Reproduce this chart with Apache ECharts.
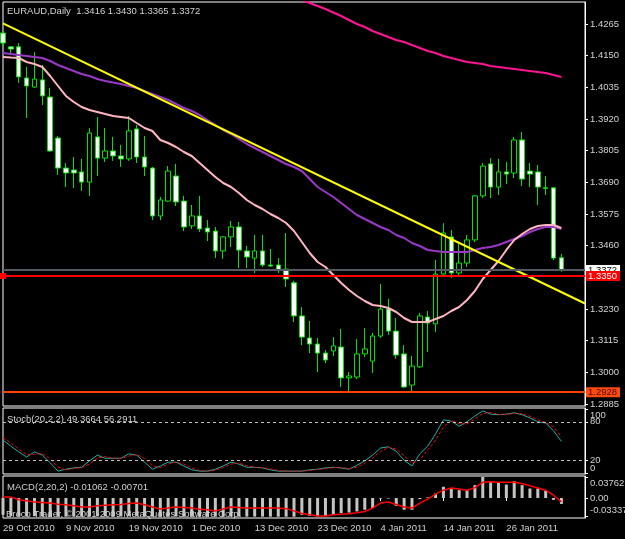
<!DOCTYPE html>
<html><head><meta charset="utf-8">
<script src="https://cdn.jsdelivr.net/npm/echarts@6/dist/echarts.min.js"></script>
<style>html,body{margin:0;padding:0;background:#000;}#c{width:625px;height:539px;}</style>
</head><body><div id="c"></div>
<script>
const symbolName = 'EURAUD', periodName = 'Daily';
const dates = ['28 Oct 2010','29 Oct 2010','1 Nov 2010','2 Nov 2010','3 Nov 2010','4 Nov 2010','5 Nov 2010','8 Nov 2010','9 Nov 2010','10 Nov 2010','11 Nov 2010','12 Nov 2010','15 Nov 2010','16 Nov 2010','17 Nov 2010','18 Nov 2010','19 Nov 2010','22 Nov 2010','23 Nov 2010','24 Nov 2010','25 Nov 2010','26 Nov 2010','29 Nov 2010','30 Nov 2010','1 Dec 2010','2 Dec 2010','3 Dec 2010','6 Dec 2010','7 Dec 2010','8 Dec 2010','9 Dec 2010','10 Dec 2010','13 Dec 2010','14 Dec 2010','15 Dec 2010','16 Dec 2010','17 Dec 2010','20 Dec 2010','21 Dec 2010','22 Dec 2010','23 Dec 2010','24 Dec 2010','27 Dec 2010','28 Dec 2010','29 Dec 2010','30 Dec 2010','31 Dec 2010','3 Jan 2011','4 Jan 2011','5 Jan 2011','6 Jan 2011','7 Jan 2011','10 Jan 2011','11 Jan 2011','12 Jan 2011','13 Jan 2011','14 Jan 2011','17 Jan 2011','18 Jan 2011','19 Jan 2011','20 Jan 2011','21 Jan 2011','24 Jan 2011','25 Jan 2011','26 Jan 2011','27 Jan 2011','28 Jan 2011','31 Jan 2011','1 Feb 2011','2 Feb 2011','3 Feb 2011','4 Feb 2011'];
const openP = [1.4232,1.4182,1.4182,1.4069,1.4036,1.4062,1.4000,1.3851,1.3742,1.3735,
 1.3728,1.3691,1.3855,1.3778,1.3804,1.3786,1.3775,1.3884,1.3782,1.3742,
 1.3568,1.3622,1.3713,1.3622,1.3532,1.3568,1.3524,1.3513,1.3441,1.3492,
 1.3528,1.3441,1.3415,1.3441,1.3390,1.3390,1.3375,1.3325,1.3205,1.3125,
 1.3103,1.3070,1.3078,1.3092,1.2980,1.2983,1.3067,1.3041,1.3132,1.3230,
 1.3150,1.3067,1.2954,1.3020,1.3201,1.3176,1.3357,1.3492,1.3361,1.3397,
 1.3481,1.3641,1.3757,1.3673,1.3728,1.3724,1.3844,1.3731,1.3728,1.3670,
 1.3670,1.3416];
const highP = [1.4243,1.4185,1.4196,1.4109,1.4163,1.4116,1.4033,1.3858,1.3760,1.3782,
 1.3775,1.3887,1.3927,1.3887,1.3855,1.3826,1.3931,1.3898,1.3858,1.3746,
 1.3637,1.3749,1.3757,1.3641,1.3608,1.3641,1.3553,1.3528,1.3495,1.3550,
 1.3546,1.3459,1.3499,1.3499,1.3448,1.3415,1.3506,1.3332,1.3237,1.3187,
 1.3125,1.3081,1.3128,1.3158,1.3001,1.3121,1.3161,1.3143,1.3321,1.3267,
 1.3198,1.3099,1.3060,1.3216,1.3223,1.3408,1.3542,1.3517,1.3470,1.3499,
 1.3644,1.3760,1.3778,1.3775,1.3764,1.3855,1.3873,1.3760,1.3753,1.3713,
 1.3672,1.3430];
const lowP = [1.4182,1.4160,1.4051,1.3924,1.4033,1.3971,1.3800,1.3717,1.3673,1.3670,
 1.3659,1.3641,1.3713,1.3764,1.3768,1.3746,1.3768,1.3760,1.3713,1.3553,
 1.3553,1.3619,1.3604,1.3513,1.3521,1.3510,1.3477,1.3415,1.3412,1.3455,
 1.3379,1.3379,1.3361,1.3383,1.3383,1.3361,1.3310,1.3183,1.3099,1.3070,
 1.3001,1.3034,1.3060,1.2947,1.2925,1.2976,1.3056,1.2998,1.3125,1.3136,
 1.3049,1.2943,1.2925,1.3016,1.3074,1.3147,1.3346,1.3343,1.3354,1.3383,
 1.3473,1.3633,1.3633,1.3644,1.3684,1.3706,1.3677,1.3673,1.3608,1.3644,
 1.3408,1.3365];
const closeP = [1.4196,1.4174,1.4073,1.4040,1.4065,1.4004,1.3804,1.3742,1.3724,1.3724,
 1.3691,1.3869,1.3778,1.3804,1.3786,1.3775,1.3877,1.3782,1.3746,1.3568,
 1.3626,1.3731,1.3619,1.3528,1.3568,1.3521,1.3510,1.3441,1.3492,1.3528,
 1.3444,1.3419,1.3441,1.3390,1.3386,1.3372,1.3339,1.3205,1.3128,1.3103,
 1.3070,1.3045,1.3096,1.2980,1.2987,1.3067,1.3085,1.3132,1.3230,1.3150,
 1.3063,1.2947,1.3023,1.3205,1.3179,1.3357,1.3506,1.3361,1.3397,1.3481,
 1.3641,1.3749,1.3673,1.3728,1.3720,1.3844,1.3702,1.3720,1.3673,1.3668,
 1.3415,1.3372];
const maLong = [null,null,null,null,null,null,null,null,null,null,
 null,null,null,null,null,null,null,null,null,null,
 null,null,null,null,null,null,null,null,null,null,
 null,null,null,null,null,null,null,1.43630,1.43522,1.43413,
 1.43304,1.43195,1.43068,1.42941,1.42795,1.42650,1.42541,1.42396,1.42287,1.42178,
 1.42069,1.41996,1.41888,1.41779,1.41670,1.41597,1.41488,1.41416,1.41343,1.41270,
 1.41234,1.41198,1.41125,1.41089,1.41052,1.41016,1.40980,1.40943,1.40907,1.40871,
 1.40798,1.40725];
const maMid = [1.41597,1.41561,1.41524,1.41488,1.41451,1.41416,1.41307,1.41161,1.41052,1.40943,
 1.40835,1.40762,1.40653,1.40580,1.40526,1.40471,1.40399,1.40326,1.40217,1.40108,
 1.39999,1.39890,1.39745,1.39600,1.39491,1.39346,1.39164,1.38983,1.38801,1.38656,
 1.38474,1.38293,1.38148,1.38002,1.37857,1.37712,1.37567,1.37458,1.37312,1.37022,
 1.36731,1.36550,1.36368,1.36150,1.35932,1.35715,1.35569,1.35424,1.35279,1.35170,
 1.34988,1.34880,1.34698,1.34589,1.34444,1.34407,1.34371,1.34371,1.34371,1.34371,
 1.34444,1.34516,1.34553,1.34625,1.34734,1.34843,1.34952,1.35097,1.35206,1.35279,
 1.35279,1.35206];
const maShort = [1.41452,1.41433,1.41416,1.41270,1.41198,1.41089,1.40762,1.40399,1.40036,1.39818,
 1.39636,1.39527,1.39455,1.39382,1.39310,1.39273,1.39237,1.39055,1.38874,1.38765,
 1.38438,1.38329,1.38184,1.38002,1.37857,1.37603,1.37349,1.37094,1.36876,1.36731,
 1.36514,1.36259,1.36078,1.35932,1.35751,1.35606,1.35424,1.35134,1.34734,1.34335,
 1.34008,1.33826,1.33536,1.33246,1.32991,1.32774,1.32592,1.32447,1.32410,1.32338,
 1.32192,1.31975,1.31829,1.31829,1.31829,1.31938,1.32047,1.32229,1.32374,1.32628,
 1.32955,1.33391,1.33718,1.34045,1.34444,1.34807,1.35025,1.35206,1.35315,1.35351,
 1.35351,1.35243];
const trendBars = [0, 74];
const trendPrices = [1.42670, 1.32501];
const bidPrice = 1.3372;
const redLevel = 1.3350;
const orangeLevel = 1.2928;
const priceTicks = [1.4265,1.4150,1.4035,1.3920,1.3805,1.3690,1.3575,1.3460,1.3345,1.3230,1.3115,1.3000,1.2885];
const stochMain = [51.6,42,33,25,33,28,16,3,6,8,
 9,19,28,23,23,23,30,28,17,6,
 11,17,17,11,5,3,3,6,11,17,
 14,9,9,8,5,3,3,3,3,5,
 6,8,9,8,6,12,19,28,39,41,
 34,20,11,30,42,61,83,81,73,80,
 89,97,92,91,92,94,91,86,80,78,
 66,49.3664];
const stochSignal = [55,47,37.5,29,29,30.5,22,9.5,4.5,7,
 8.5,14,23.5,25.5,23,23,26.5,29,22.5,11.5,
 8.5,14,17,14,8,4,3,4.5,8.5,14,
 15.5,11.5,9,8.5,6.5,4,3,3,3,4,
 5.5,7,8.5,8.5,7,9,15.5,23.5,33.5,40,
 37.5,27,15.5,20.5,36,51.5,72,82,77,76.5,
 84.5,93,94.5,91.5,91.5,93,92.5,88.5,83,79,
 72,56.2911];
const stochLevels = [20, 80];
const stochTicks = [100, 80, 20, 0];
const stochInnerTicks = [80, 20];
const stochEdgeTicks = [100, 0];
const macdHist = [-0.0300,-0.0320,-0.0330,-0.0330,-0.0325,-0.0330,-0.0334,-0.0334,-0.0334,-0.0334,
 -0.0334,-0.0330,-0.0330,-0.0330,-0.0330,-0.0330,-0.0325,-0.0328,-0.0332,-0.0334,
 -0.0334,-0.0332,-0.0332,-0.0334,-0.0334,-0.0334,-0.0334,-0.0334,-0.0334,-0.0332,
 -0.0332,-0.0333,-0.0333,-0.0333,-0.0333,-0.0334,-0.0334,-0.0334,-0.0300,-0.0320,
 -0.0330,-0.0320,-0.0300,-0.0270,-0.0260,-0.0240,-0.0210,-0.0180,-0.0010,-0.0010,
 -0.0140,-0.0210,-0.0210,-0.0020,0.0010,0.0080,0.0200,0.0170,0.0140,0.0140,
 0.0230,0.0376,0.0300,0.0270,0.0240,0.0300,0.0230,0.0170,0.0170,0.0130,
 -0.0034,-0.01062];
const macdSignal = [0.002,0.002,-0.003,-0.005,-0.007,-0.008,-0.009,-0.011,-0.012,-0.014,
 -0.016,-0.016,-0.014,-0.013,-0.012,-0.0115,-0.010,-0.009,-0.012,-0.016,
 -0.0195,-0.018,-0.016,-0.017,-0.018,-0.020,-0.021,-0.023,-0.0195,-0.016,
 -0.017,-0.018,-0.018,-0.018,-0.018,-0.018,-0.019,-0.023,-0.0275,-0.030,
 -0.032,-0.032,-0.030,-0.029,-0.028,-0.0265,-0.024,-0.018,-0.009,-0.007,
 -0.0115,-0.016,-0.018,-0.009,-0.002,0.007,0.014,0.018,0.016,0.014,
 0.0185,0.028,0.029,0.028,0.028,0.028,0.026,0.022,0.018,0.014,
 0.005,-0.00701];
const macdTicks = [0.03762, 0, -0.03337];
const macdTickText = ['0.03762', '0.00', '-0.03337'];
const xTickIdx = [0, 8, 16, 24, 32, 40, 48, 56, 64];
const xTickText = ['29 Oct 2010','9 Nov 2010','19 Nov 2010','1 Dec 2010','13 Dec 2010','23 Dec 2010','4 Jan 2011','14 Jan 2011','26 Jan 2011'];
const copyrightText = 'Broco Trader, \u00a9 2001-2009 MetaQuotes Software Corp.';

const FONT = '"Liberation Sans", Arial, sans-serif';
const TXT = '#d2d2d2';
const cats = dates.concat(['', '', '']);
const candles = dates.map((d, i) => [openP[i], closeP[i], lowP[i], highP[i]]);
const last = dates.length - 1;

function gridOf(top, height) {
  return {left: 3, right: 40, top: top, height: height, show: true, borderColor: '#ffffff', borderWidth: 1, backgroundColor: 'transparent', outerBoundsMode: 'none', containLabel: false};
}
function hiddenX(gi) {
  return {type: 'category', gridIndex: gi, data: cats, boundaryGap: false, axisLine: {show: false}, axisTick: {show: false}, axisLabel: {show: false}, splitLine: {show: false}};
}
const lblBase = {color: TXT, fontSize: 9.5, fontFamily: FONT};
const chart = echarts.init(document.getElementById('c'), null, {renderer: 'canvas'});
chart.setOption({
  backgroundColor: '#000000',
  animation: false,
  grid: [gridOf(2, 404), gridOf(408, 66), gridOf(476, 42)],
  xAxis: [hiddenX(0), hiddenX(1), {
    type: 'category', gridIndex: 2, data: cats, boundaryGap: false,
    axisLine: {show: false},
    axisTick: {show: true, length: 3, inside: false, interval: (i) => xTickIdx.indexOf(i) >= 0, lineStyle: {color: '#ffffff', width: 1}},
    axisLabel: {show: true, interval: (i) => xTickIdx.indexOf(i) >= 0, align: 'left', margin: 5, hideOverlap: false,
      formatter: (v, i) => { const k = xTickIdx.indexOf(i); return k >= 0 ? xTickText[k] : ''; },
      color: TXT, fontSize: 9.5, fontFamily: FONT},
    splitLine: {show: false}
  }],
  yAxis: [{
    type: 'value', gridIndex: 0, position: 'right', min: 1.28779, max: 1.43449,
    axisLine: {show: true, lineStyle: {color: '#ffffff'}},
    axisTick: {show: true, length: 3, customValues: priceTicks, lineStyle: {color: '#ffffff'}},
    axisLabel: Object.assign({customValues: priceTicks, margin: 5, hideOverlap: false, formatter: (v) => v.toFixed(4)}, lblBase),
    splitLine: {show: false}
  }, {
    type: 'value', gridIndex: 1, position: 'right', min: -1.5, max: 101.5,
    axisLine: {show: true, lineStyle: {color: '#ffffff'}},
    axisTick: {show: true, length: 3, customValues: stochTicks, lineStyle: {color: '#ffffff'}},
    axisLabel: Object.assign({customValues: stochInnerTicks, margin: 5, hideOverlap: false, formatter: (v) => String(v)}, lblBase),
    splitLine: {show: false}
  }, {
    type: 'value', gridIndex: 2, position: 'right', min: -0.0357, max: 0.0393,
    axisLine: {show: true, lineStyle: {color: '#ffffff'}},
    axisTick: {show: true, length: 3, customValues: macdTicks, lineStyle: {color: '#ffffff'}},
    axisLabel: Object.assign({customValues: macdTicks, margin: 5, hideOverlap: false,
      formatter: (v) => { const k = macdTicks.indexOf(v); const t = k >= 0 ? macdTickText[k] : String(v); return k === 0 ? '{dn|' + t + '}' : (k === 2 ? '{up|' + t + '}' : t); },
      rich: {dn: Object.assign({padding: [12, 0, 0, 0]}, lblBase), up: Object.assign({padding: [0, 0, 12, 0]}, lblBase)}}, lblBase),
    splitLine: {show: false}
  }, {
    // label-only axis for the stochastic 100 / 0 labels, which MetaTrader draws inset from the panel edges
    type: 'value', gridIndex: 1, position: 'right', min: -11.32, max: 113.2,
    axisLine: {show: false}, axisTick: {show: false},
    axisLabel: Object.assign({customValues: stochEdgeTicks, margin: 5, hideOverlap: false, formatter: (v) => String(v)}, lblBase),
    splitLine: {show: false}
  }],
  series: [{
    type: 'candlestick', xAxisIndex: 0, yAxisIndex: 0, data: candles, barWidth: 5, clip: true,
    itemStyle: {color: '#000000', color0: '#ffffff', borderColor: '#00e400', borderColor0: '#00e400', borderWidth: 1},
    markLine: {
      silent: true, animation: false, symbol: ['none', 'none'], precision: 4,
      data: [
        {yAxis: bidPrice, lineStyle: {color: '#535a62', width: 2, type: 'solid'},
          label: {show: true, position: 'end', distance: 1, formatter: bidPrice.toFixed(4), color: '#000000', backgroundColor: '#ffffff', padding: [1, 3, 0, 2], fontSize: 9.5, fontFamily: FONT, lineHeight: 9}},
        {yAxis: redLevel, symbol: ['rect', 'rect'], symbolSize: 6, lineStyle: {color: '#ff0000', width: 2, type: 'solid'},
          label: {show: true, position: 'end', distance: 1, formatter: redLevel.toFixed(4), color: '#ffffff', backgroundColor: '#ff0000', padding: [1, 3, 0, 2], fontSize: 9.5, fontFamily: FONT, lineHeight: 9}},
        {yAxis: orangeLevel, lineStyle: {color: '#ff4000', width: 2, type: 'solid'},
          label: {show: true, position: 'end', distance: 1, formatter: orangeLevel.toFixed(4), color: '#4a0800', backgroundColor: '#ff4a10', padding: [1, 3, 0, 2], fontSize: 9.5, fontFamily: FONT, lineHeight: 9}}
      ]
    }
  }, {
    type: 'line', xAxisIndex: 0, yAxisIndex: 0, data: maLong, showSymbol: false, clip: true,
    lineStyle: {color: '#ff1493', width: 2}, z: 3
  }, {
    type: 'line', xAxisIndex: 0, yAxisIndex: 0, data: maMid, showSymbol: false, clip: true,
    lineStyle: {color: '#9b38c8', width: 2}, z: 3
  }, {
    type: 'line', xAxisIndex: 0, yAxisIndex: 0, data: maShort, showSymbol: false, clip: true,
    lineStyle: {color: '#ffb6c1', width: 2}, z: 3
  }, {
    type: 'line', xAxisIndex: 0, yAxisIndex: 0, data: trendBars.map((b, i) => [b, trendPrices[i]]), showSymbol: false, clip: true,
    lineStyle: {color: '#ffff00', width: 2}, z: 4
  }, {
    type: 'line', xAxisIndex: 1, yAxisIndex: 1, data: stochMain, showSymbol: false, clip: true,
    lineStyle: {color: '#20b2aa', width: 1},
    markLine: {silent: true, animation: false, symbol: ['none', 'none'], label: {show: false},
      lineStyle: {color: '#c0c0c0', width: 1, type: [3, 3]},
      data: stochLevels.map(v => ({yAxis: v}))}
  }, {
    type: 'line', xAxisIndex: 1, yAxisIndex: 1, data: stochSignal, showSymbol: false, clip: true,
    lineStyle: {color: '#ff0000', width: 1, type: [3, 2]}
  }, {
    type: 'bar', xAxisIndex: 2, yAxisIndex: 2, data: macdHist, barWidth: 3, clip: true,
    itemStyle: {color: '#c4c4c0'}
  }, {
    type: 'line', xAxisIndex: 2, yAxisIndex: 2, data: macdSignal, showSymbol: false, clip: true,
    lineStyle: {color: '#ff0000', width: 1.5}, z: 3
  }],
  graphic: [
    {type: 'text', x: 7, y: 11, z: 10, style: {text: symbolName + ',' + periodName + '  ' + openP[last].toFixed(4) + ' ' + highP[last].toFixed(4) + ' ' + lowP[last].toFixed(4) + ' ' + closeP[last].toFixed(4), fill: TXT, font: '9.5px ' + FONT, verticalAlign: 'middle'}},
    {type: 'text', x: 7, y: 419, z: 10, style: {text: 'Stoch(20,2,2) ' + stochMain[last].toFixed(4) + ' ' + stochSignal[last].toFixed(4), fill: TXT, font: '9.5px ' + FONT, verticalAlign: 'middle'}},
    {type: 'text', x: 7, y: 487, z: 10, style: {text: 'MACD(2,20,2) ' + macdHist[last].toFixed(5) + ' ' + macdSignal[last].toFixed(5), fill: TXT, font: '9.5px ' + FONT, verticalAlign: 'middle'}},
    {type: 'text', x: 6, y: 514, z: 10, style: {text: copyrightText, fill: TXT, font: '9.5px ' + FONT, verticalAlign: 'middle'}}
  ]
});
</script></body></html>
